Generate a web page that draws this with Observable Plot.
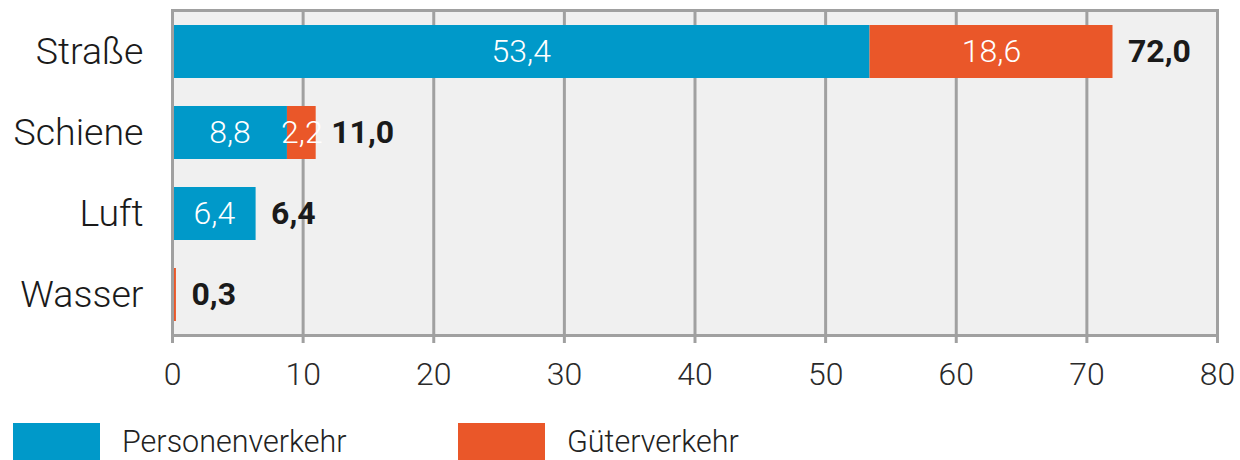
<!DOCTYPE html>
<html>
<head>
<meta charset="utf-8">
<script src="https://cdn.jsdelivr.net/npm/d3@7"></script>
<script src="https://cdn.jsdelivr.net/npm/@observablehq/plot@0.6"></script>
<style>
  html, body { margin: 0; padding: 0; background: #fff; font-family: Roboto, sans-serif; overflow: hidden; }
  #wrap { position: relative; width: 1240px; height: 460px; }
  #chart { position: absolute; left: 0; top: 0; }
  .sw { position: absolute; top: 423px; width: 87px; height: 37px; }
  .lab { position: absolute; top: 424px; font-size: 30.5px; font-weight: 300; color: #222; line-height: normal; white-space: nowrap; }
</style>
</head>
<body>
<div id="wrap">
  <div id="chart"></div>
</div>
<script>
const categories = ["Straße", "Schiene", "Luft", "Wasser"];
const seriesNames = ["Personenverkehr", "Güterverkehr"];
const personen = [53.4, 8.8, 6.4, 0];
const gueter = [18.6, 2.2, 0, 0.3];
const totals = [72.0, 11.0, 6.4, 0.3];
const xTicks = [0, 10, 20, 30, 40, 50, 60, 70, 80];
const colors = ["#0099c9", "#ea5729"];

const fmt = v => v.toFixed(1).replace(".", ",");

const rows = [];
categories.forEach((c, i) => {
  rows.push({cat: c, series: seriesNames[0], value: personen[i]});
  rows.push({cat: c, series: seriesNames[1], value: gueter[i]});
});
const totalRows = categories.map((c, i) => ({cat: c, total: totals[i]}));

const chart = Plot.plot({
  width: 1240,
  height: 400,
  marginLeft: 172,
  marginRight: 23,
  marginTop: 10,
  marginBottom: 65,
  style: {fontFamily: "Roboto, sans-serif", background: "#fff"},
  x: {domain: [0, 80]},
  y: {domain: categories, paddingInner: 0.35, paddingOuter: 0.175},
  color: {domain: seriesNames, range: colors},
  marks: [
    Plot.frame({fill: "#f0f0f0", stroke: null}),
    Plot.gridX(xTicks, {stroke: "#a0a0a0", strokeOpacity: 1, strokeWidth: 3}),
    Plot.barX(rows, Plot.stackX({x: "value", y: "cat", fill: "series", order: seriesNames})),
    Plot.text(rows.filter(d => d.value >= 1), Plot.stackX({
      x: "value", y: "cat", order: seriesNames, z: "series",
      text: d => fmt(d.value), fill: "#fff", fontSize: 32, fontWeight: 300
    })),
    Plot.text(totalRows, {
      x: "total", y: "cat", text: d => fmt(d.total), textAnchor: "start", dx: 15,
      fill: "#1a1a1a", fontSize: 32, fontWeight: 700
    }),
    Plot.frame({stroke: "#a0a0a0", strokeWidth: 3, fill: null}),
    Plot.axisX(xTicks, {
      tickSize: 8, tickPadding: 19, fontSize: 32, fontWeight: 300, fill: "#2a2a2a",
      stroke: "#a0a0a0", strokeWidth: 3, tickFormat: d => String(d)
    }),
    Plot.axisY({tickSize: 0, tickPadding: 29, fontSize: 37.5, fontWeight: 300, fill: "#1a1a1a", label: null})
  ]
});
document.getElementById("chart").appendChild(chart);

const wrap = document.getElementById("wrap");
const swLefts = [13, 458];
const labLefts = [122, 567];
seriesNames.forEach((s, i) => {
  const sw = document.createElement("div");
  sw.className = "sw";
  sw.style.left = swLefts[i] + "px";
  sw.style.background = colors[i];
  const lab = document.createElement("div");
  lab.className = "lab";
  lab.style.left = labLefts[i] + "px";
  lab.textContent = s;
  wrap.appendChild(sw);
  wrap.appendChild(lab);
});
</script>
</body>
</html>
